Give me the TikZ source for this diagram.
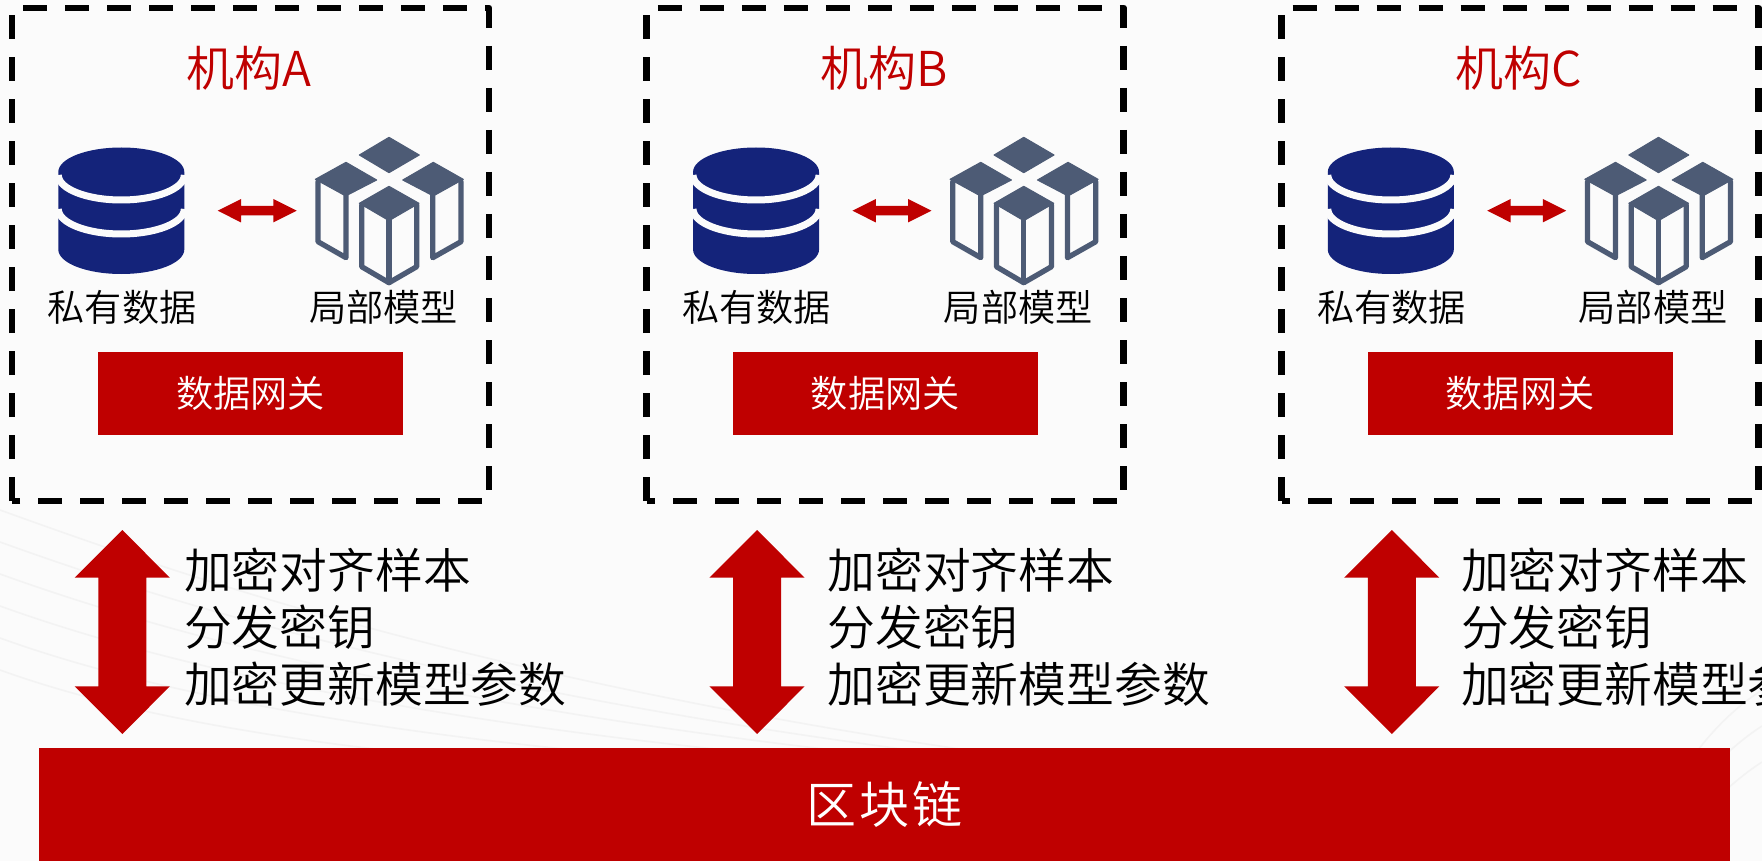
\documentclass[tikz,border=0pt]{standalone}
\usepackage{fontspec}
\setmainfont{Noto Sans CJK SC DemiLight}
\definecolor{brandred}{HTML}{BF0000}
\definecolor{navy}{HTML}{14237A}
\definecolor{slate}{HTML}{4D5B75}
\definecolor{paper}{HTML}{FBFBFB}
\definecolor{wave}{HTML}{F3F3F3}
\tikzset{
  orgbox/.style={draw=black,line width=6.6pt,dash pattern=on 24pt off 18pt,line join=round},
  blockfill/.style={fill=brandred,draw=none},
  txt/.style={inner sep=0pt,outer sep=0pt,font=\fontsize{37.2}{44}\selectfont,text=black},
  modeltop/.style={fill=slate,draw=slate,line width=1pt,line join=round},
  modelside/.style={draw=slate,line width=5.3pt,line join=round,line cap=round},
  multiline/.style={inner sep=0pt,outer sep=0pt,align=left,font=\fontsize{47.8}{57}\selectfont,text=black},
  wavy/.style={draw=wave,line width=1.6pt}
}
\begin{document}
\begin{tikzpicture}[x=1pt,y=-1pt]
\useasboundingbox (0,0) rectangle (1762,861);
\fill[paper] (0,0) rectangle (1762,861);
% faint background waves
\foreach \d in {0,32,64,96,128,160}{
  \draw[wavy] (0,{510+\d}) .. controls (180,{575+\d}) and (480,{680+\d*0.6}) .. (1000,{755+\d*0.2});
}
\foreach \d in {0,36,72}{
  \draw[wavy] (1762,{690+\d}) .. controls (1700,{730+\d}) and (1660,{800+\d}) .. (1640,861);
}
\foreach \s/\tshift/\n/\L in {0/0/a/A,634.75/643.5/b/B,1269.5/1277/c/C}{
  \begin{scope}[xshift=\s pt]
    \draw[orgbox] (12,501) -- (12,8) -- (489,8) -- (489,501) -- cycle;
    \node[inner sep=0pt,text=brandred,font=\fontsize{48}{57}\selectfont] (title\n) at (249,68.5) {机构\L};
    % database
    \fill[navy] (58.3,172) -- (58.3,249.5) arc[start angle=180,end angle=0,x radius=63,y radius=24.5]
      -- (184.3,172) arc[start angle=0,end angle=-180,x radius=63,y radius=24.5] -- cycle;
    \draw[paper,line width=7pt] (58.3,175) arc[start angle=180,end angle=0,x radius=63,y radius=25];
    \draw[paper,line width=7pt] (58.3,209) arc[start angle=180,end angle=0,x radius=63,y radius=25];
    \node[txt] (data\n) at (122,307) {私有数据};
    % model blocks
    \draw[modelside] (318,181.7) -- (318,241.7) -- (346,257.7) -- (346,195);
    \draw[modelside] (432.7,195) -- (432.7,257.7) -- (461,241.7) -- (461,181.7);
    \filldraw[modeltop] (389,137.3) -- (419.3,155) -- (389,172.7) -- (359.3,155) -- cycle;
    \filldraw[modeltop] (315.3,179.3) -- (346,162.3) -- (376.7,180) -- (345.7,196) -- cycle;
    \filldraw[modeltop] (402.7,180) -- (433.3,162.3) -- (463.3,179.3) -- (433.3,196) -- cycle;
    \draw[modelside] (361.7,205) -- (361.7,266.7) -- (389,282.7) -- (416.7,266.7) -- (416.7,205);
    \draw[modelside] (389,220) -- (389,282.7);
    \filldraw[modeltop] (389,186.3) -- (419,203.3) -- (389,220.7) -- (359.3,203.3) -- cycle;
    \node[txt] (model\n) at (383.5,307) {局部模型};
    % small two-way arrow
    \fill[brandred] (217.7,210.7) -- (241,199) -- (241,206) -- (273.3,206) -- (273.3,199) -- (296.7,210.7)
      -- (273.3,222.4) -- (273.3,215.4) -- (241,215.4) -- (241,222.4) -- cycle;
    % gateway
    \node[blockfill,minimum width=305pt,minimum height=83pt,inner sep=0pt,text=white,font=\fontsize{37.2}{44}\selectfont] (gate\n) at (250.5,393.5) {数据网关};
    % big two-way arrow
    \fill[brandred] (122.3,530) -- (169.9,577.7) -- (146.3,577.7) -- (146.3,686.3) -- (169.9,686.3) -- (122.3,734)
      -- (74.7,686.3) -- (98.3,686.3) -- (98.3,577.7) -- (74.7,577.7) -- cycle;
  \end{scope}
  \node[multiline,anchor=west] (steps\n) at (184+\tshift,627) {加密对齐样本\\分发密钥\\加密更新模型参数};
}
\node[blockfill,minimum width=1691pt,minimum height=113pt,inner sep=0pt,text=white,font=\fontsize{50}{57}\selectfont] (chain) at (884.5,804.5) {区\hspace{3pt}块\hspace{3pt}链};
\end{tikzpicture}
\end{document}
